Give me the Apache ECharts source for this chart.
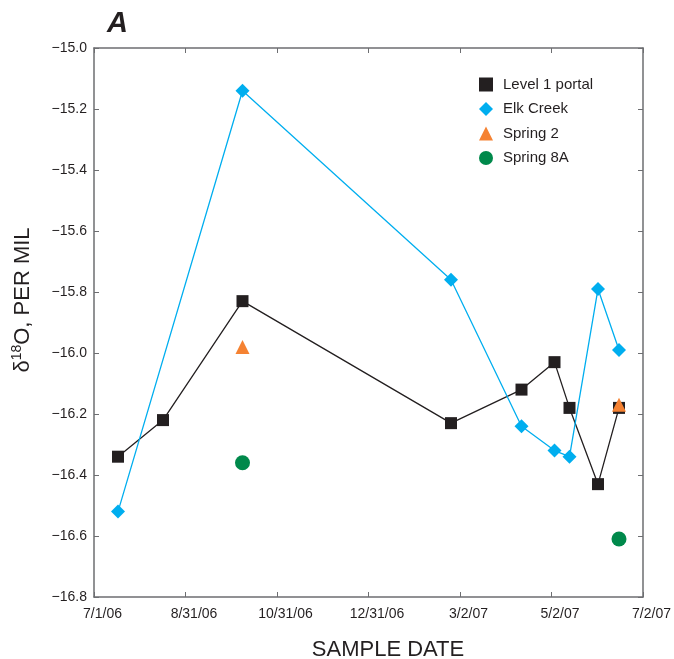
<!DOCTYPE html>
<html>
<head>
<meta charset="utf-8">
<script src="https://cdn.jsdelivr.net/npm/echarts@6/dist/echarts.min.js"></script>
<style>
  html, body { margin: 0; padding: 0; background: #fff; }
  #chart { width: 674px; height: 659px; }
</style>
</head>
<body>
<div id="chart"></div>
<script>
// Sample dates (UTC) and delta-18O values, per mil
const portalDates  = ['2006-07-17', '2006-08-16', '2006-10-08', '2007-02-24', '2007-04-12', '2007-05-04', '2007-05-14', '2007-06-02', '2007-06-16'];
const portalValues = [-16.34, -16.22, -15.83, -16.23, -16.12, -16.03, -16.18, -16.43, -16.18];

const elkDates  = ['2006-07-17', '2006-10-08', '2007-02-24', '2007-04-12', '2007-05-04', '2007-05-14', '2007-06-02', '2007-06-16'];
const elkValues = [-16.52, -15.14, -15.76, -16.24, -16.32, -16.34, -15.79, -15.99];

const spring2Dates  = ['2006-10-08', '2007-06-16'];
const spring2Values = [-15.98, -16.17];

const spring8ADates  = ['2006-10-08', '2007-06-16'];
const spring8AValues = [-16.36, -16.61];

// Axis extents and tick spacing
const xStart = '2006-07-01';
const xEnd = '2007-07-02';
const xTickDays = 61;
const yMin = -16.8, yMax = -15.0, yStep = 0.2;

const DAY = 86400000;
const toMs = s => Date.parse(s + 'T00:00:00Z');
const pairs = (dates, vals) => dates.map((d, i) => [toMs(d), vals[i]]);

const FONT = '"Liberation Sans", Arial, sans-serif';
const INK = '#231f20';
const AXIS = '#6d6e71';

const fmtDate = v => {
  const d = new Date(v);
  return (d.getUTCMonth() + 1) + '/' + d.getUTCDate() + '/' + String(d.getUTCFullYear()).slice(2);
};
const fmtNum = v => (v < 0 ? '\u2212' : '') + Math.abs(v).toFixed(1);

const axisLine = { show: true, onZero: false, lineStyle: { color: AXIS, width: 1.5 } };
const axisTick = { show: true, inside: true, length: 5, lineStyle: { color: AXIS, width: 1 } };

const xBase = {
  type: 'value',
  min: toMs(xStart),
  max: toMs(xEnd),
  interval: xTickDays * DAY,
  axisLine, axisTick,
  splitLine: { show: false }
};
const yBase = {
  type: 'value',
  min: yMin, max: yMax, interval: yStep,
  axisLine, axisTick,
  splitLine: { show: false }
};

const chart = echarts.init(document.getElementById('chart'), null, { renderer: 'canvas' });

chart.setOption({
  animation: false,
  backgroundColor: '#fff',
  grid: { left: 94, right: 31, top: 48, bottom: 62, containLabel: false },
  xAxis: [
    Object.assign({}, xBase, {
      position: 'bottom',
      axisLabel: {
        show: true, formatter: fmtDate, margin: 10, color: INK,
        fontFamily: FONT, fontSize: 14, padding: [0, 0, 0, 17]
      }
    }),
    Object.assign({}, xBase, { position: 'top', axisLabel: { show: false } })
  ],
  yAxis: [
    Object.assign({}, yBase, {
      position: 'left',
      axisLabel: { show: true, formatter: fmtNum, margin: 7, color: INK, fontFamily: FONT, fontSize: 14 }
    }),
    Object.assign({}, yBase, { position: 'right', axisLabel: { show: false } })
  ],
  legend: {
    orient: 'vertical',
    left: 474,
    top: 72,
    itemWidth: 14,
    itemHeight: 14,
    itemGap: 9.5,
    textStyle: { color: INK, fontFamily: FONT, fontSize: 15, padding: [0, 0, 0, 5] },
    data: [
      { name: 'Level 1 portal', icon: 'rect' },
      { name: 'Elk Creek', icon: 'diamond' },
      { name: 'Spring 2', icon: 'triangle' },
      { name: 'Spring 8A', icon: 'circle' }
    ]
  },
  graphic: [
    {
      type: 'text', x: 107, y: 24,
      style: {
        text: 'A', fill: INK,
        font: 'italic bold 29px ' + FONT,
        textAlign: 'left', textVerticalAlign: 'middle'
      }
    },
    {
      type: 'text', x: 388, y: 650,
      style: {
        text: 'SAMPLE DATE', fill: INK,
        font: '22px ' + FONT,
        textAlign: 'center', textVerticalAlign: 'middle'
      }
    },
    {
      type: 'text', x: 22, y: 300, rotation: Math.PI / 2,
      style: {
        text: '{m|\u03b4}{s|18}{m|O, PER MIL}',
        fill: INK,
        textAlign: 'center', textVerticalAlign: 'middle',
        rich: {
          m: { fontFamily: FONT, fontSize: 22, color: INK, lineHeight: 24, verticalAlign: 'bottom' },
          s: { fontFamily: FONT, fontSize: 14, color: INK, lineHeight: 24, verticalAlign: 'top' }
        }
      }
    }
  ],
  series: [
    {
      name: 'Level 1 portal', type: 'line',
      data: pairs(portalDates, portalValues),
      symbol: 'rect', symbolSize: 12,
      itemStyle: { color: INK },
      lineStyle: { color: INK, width: 1.3 },
      z: 2
    },
    {
      name: 'Elk Creek', type: 'line',
      data: pairs(elkDates, elkValues),
      symbol: 'diamond', symbolSize: 14,
      itemStyle: { color: '#00aeef' },
      lineStyle: { color: '#00aeef', width: 1.3 },
      z: 3
    },
    {
      name: 'Spring 2', type: 'scatter',
      data: pairs(spring2Dates, spring2Values),
      symbol: 'triangle', symbolSize: 14,
      itemStyle: { color: '#f58232', opacity: 1 },
      z: 4
    },
    {
      name: 'Spring 8A', type: 'scatter',
      data: pairs(spring8ADates, spring8AValues),
      symbol: 'circle', symbolSize: 15,
      itemStyle: { color: '#00894b', opacity: 1 },
      z: 4
    }
  ]
});
</script>
</body>
</html>
